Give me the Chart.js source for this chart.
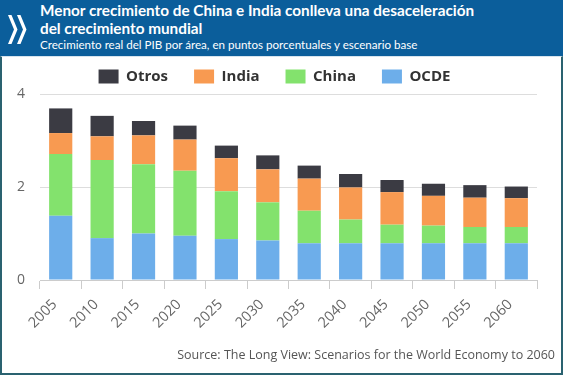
<!DOCTYPE html>
<html>
<head>
<meta charset="utf-8">
<script src="https://cdn.jsdelivr.net/npm/chart.js@4.4.0/dist/chart.umd.min.js"></script>
<style>
    body { margin: 0; width: 563px; height: 375px; overflow: hidden; background: #fff; position: relative; }
    #header { position: absolute; left: 0; top: 0; width: 563px; height: 56px; background: #0b5e9b; }
    #panel { position: absolute; left: 0; top: 56px; width: 563px; height: 319px; box-sizing: border-box; border: 2px solid #2a6270; border-top: 1px solid #d6e4ee; }
    #title { position: absolute; left: 40px; top: 1px; color: #fff; font: 700 15.3px Lato, sans-serif; line-height: 18px; }
    #subtitle { position: absolute; left: 40px; top: 38px; color: #fff; font: 400 11.6px Lato, sans-serif; white-space: nowrap; }
    #logo { position: absolute; left: 7px; top: 13px; }
    #source { position: absolute; right: 8px; top: 346px; color: #555; font: 400 12.5px "Open Sans", sans-serif; white-space: nowrap; }
    #wrap { position: absolute; left: 12px; top: 43px; width: 536px; height: 307px; }
</style>
</head>
<body>
<div id="header">
    <svg id="logo" width="22" height="33" viewBox="0 0 22 33">
        <polygon points="1,2 4.5,2 10.5,16.5 4.5,31 1,31 7,16.5" fill="#fff"/>
        <polygon points="10,2 13.5,2 19.5,16.5 13.5,31 10,31 16,16.5" fill="#fff"/>
    </svg>
    <div id="title">Menor crecimiento de China e India conlleva una desaceleración<br>del crecimiento mundial</div>
    <div id="subtitle">Crecimiento real del PIB por área, en puntos porcentuales y escenario base</div>
</div>
<div id="panel"></div>
<div id="wrap"><canvas id="growthChart" width="536" height="307"></canvas></div>
<div id="source">Source: The Long View: Scenarios for the World Economy to 2060</div>

<script>
const years = ['2005', '2010', '2015', '2020', '2025', '2030', '2035', '2040', '2045', '2050', '2055', '2060'];
const ocde = [1.38, 0.90, 1.00, 0.95, 0.88, 0.85, 0.79, 0.79, 0.79, 0.79, 0.79, 0.79];
const china = [1.33, 1.68, 1.49, 1.40, 1.03, 0.82, 0.70, 0.51, 0.40, 0.38, 0.35, 0.35];
const india = [0.45, 0.51, 0.62, 0.67, 0.71, 0.71, 0.69, 0.69, 0.70, 0.64, 0.63, 0.62];
const otros = [0.53, 0.44, 0.31, 0.30, 0.27, 0.30, 0.28, 0.29, 0.26, 0.26, 0.27, 0.25];
const yTicks = [0, 2, 4];

const ctx = document.getElementById('growthChart').getContext('2d');
new Chart(ctx, {
    type: 'bar',
    data: {
        labels: years,
        datasets: [
            { label: 'OCDE', data: ocde, backgroundColor: '#6daeea' },
            { label: 'China', data: china, backgroundColor: '#83e26d' },
            { label: 'India', data: india, backgroundColor: '#f89a51' },
            { label: 'Otros', data: otros, backgroundColor: '#3b3b43' }
        ]
    },
    options: {
        responsive: false,
        animation: false,
        layout: { padding: { right: 11 } },
        datasets: { bar: { categoryPercentage: 1, barPercentage: 0.56 } },
        scales: {
            x: {
                stacked: true,
                grid: { offset: true, drawOnChartArea: false, tickLength: 9, color: '#cccccc' },
                border: { color: '#cccccc' },
                ticks: { color: '#666', font: { family: 'Open Sans', size: 14.5 }, minRotation: 45, maxRotation: 45, padding: 7, labelOffset: -6 },
                afterFit: scale => { scale.height = 70; }
            },
            y: {
                stacked: true,
                min: 0,
                max: 4,
                afterBuildTicks: scale => { scale.ticks = yTicks.map(v => ({ value: v })); },
                grid: { color: '#dddddd', drawTicks: false },
                border: { display: false },
                ticks: { color: '#666', font: { family: 'Open Sans', size: 14 }, padding: 15 },
                afterFit: scale => { scale.width = 28; }
            }
        },
        plugins: {
            legend: {
                reverse: true,
                labels: {
                    color: '#333',
                    font: { family: 'Open Sans', size: 15, weight: 'bold' },
                    boxWidth: 20,
                    boxHeight: 14,
                    padding: 26
                }
            },
            tooltip: { enabled: false }
        }
    }
});
</script>
</body>
</html>
